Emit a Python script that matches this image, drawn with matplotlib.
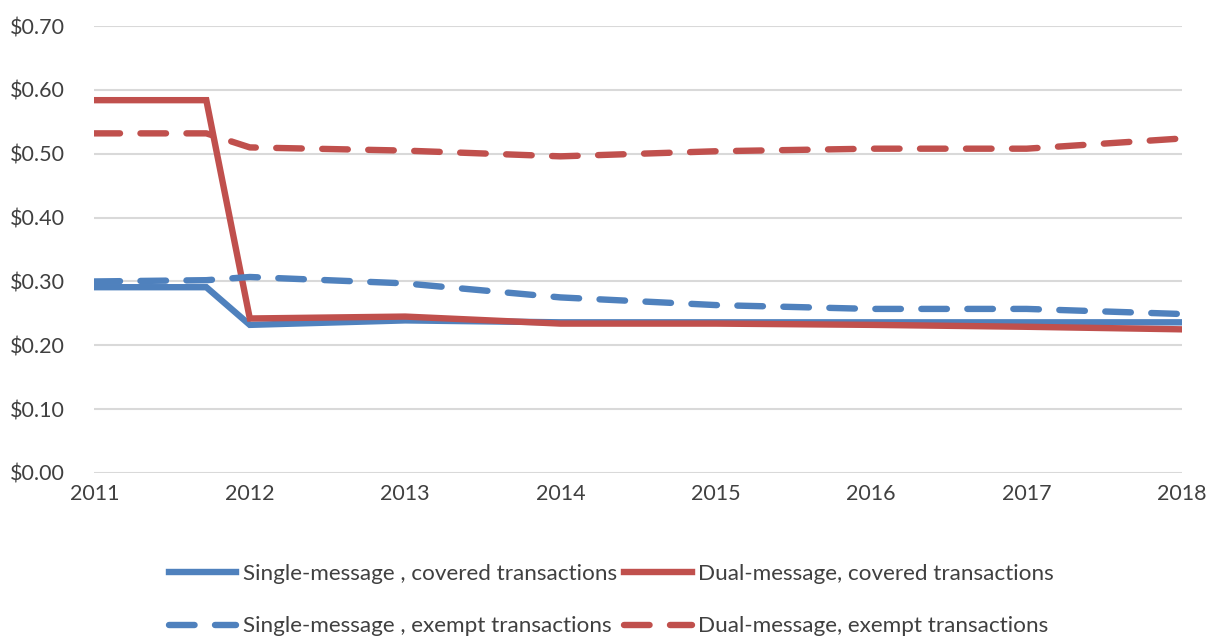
import matplotlib.pyplot as plt
from matplotlib.ticker import FuncFormatter

# x positions: 2011, the October 2011 break point, then yearly
years = [2011, 2011.72, 2012, 2013, 2014, 2015, 2016, 2017, 2018]

single_covered = [0.291, 0.291, 0.232, 0.239, 0.236, 0.236, 0.236, 0.236, 0.236]
dual_covered = [0.584, 0.584, 0.242, 0.245, 0.234, 0.234, 0.232, 0.229, 0.225]
single_exempt = [0.300, 0.302, 0.307, 0.297, 0.275, 0.263, 0.257, 0.257, 0.249]
dual_exempt = [0.532, 0.532, 0.510, 0.505, 0.496, 0.504, 0.508, 0.508, 0.524]

labels = ["Single-message , covered transactions",
          "Dual-message, covered transactions",
          "Single-message , exempt transactions",
          "Dual-message, exempt transactions"]

blue = "#4f81bd"
red = "#c0504d"

plt.rcParams['font.family'] = ['Lato', 'DejaVu Sans']

fig = plt.figure(figsize=(12.11, 6.37), dpi=100)
ax = fig.add_axes([0.078, 0.2575, 0.898, 0.7015])

lw = 4.6
l1, = ax.plot(years, single_covered, color=blue, lw=lw, solid_joinstyle="miter")
l2, = ax.plot(years, dual_covered, color=red, lw=lw, solid_joinstyle="miter")
l3, = ax.plot(years, single_exempt, color=blue, lw=lw, dashes=(4.0, 3.2),
              dash_capstyle="round")
l4, = ax.plot(years, dual_exempt, color=red, lw=lw, dashes=(4.0, 3.2),
              dash_capstyle="round")

ax.set_xlim(2011, 2018)
ax.set_ylim(0, 0.7)
ax.set_yticks([0.0, 0.1, 0.2, 0.3, 0.4, 0.5, 0.6, 0.7])
ax.set_xticks(range(2011, 2019))
ax.yaxis.set_major_formatter(FuncFormatter(lambda v, p: f"${v:.2f}"))
ax.grid(axis="y", color="#d9d9d9", lw=1.5)
ax.set_axisbelow(True)
for s in ax.spines.values():
    s.set_visible(False)
ax.tick_params(length=0, labelsize=15.5, labelcolor="#404040")
ax.tick_params(axis="x", pad=8)
ax.tick_params(axis="y", pad=21)

# column-wise fill: order so rows read covered / exempt
fig.legend([l1, l3, l2, l4], [labels[0], labels[2], labels[1], labels[3]],
           ncol=2, loc="lower center", bbox_to_anchor=(0.505, -0.031),
           frameon=False, fontsize=16.2, labelcolor="#404040",
           handlelength=3.0, handletextpad=0.3, columnspacing=0.3,
           labelspacing=1.45)

fig.savefig("out.png", dpi=100)
